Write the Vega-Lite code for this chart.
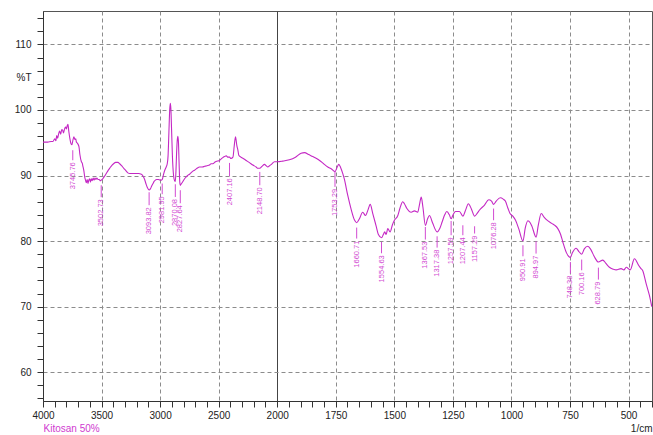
{
  "$schema": "https://vega.github.io/schema/vega-lite/v6.json",
  "width": 609,
  "height": 390,
  "autosize": "none",
  "padding": {"left": 43, "top": 11, "right": 1, "bottom": 34},
  "background": "white",
  "config": {"view": {"stroke": "#555", "strokeWidth": 1}, "font": "Liberation Sans"},
  "datasets": {
    "spectrum": [
      {"wn": 4000, "t": 95.1}, {"wn": 3960, "t": 95.1}, {"wn": 3930, "t": 95.2}, {"wn": 3915, "t": 95.2},
      {"wn": 3900, "t": 95.6}, {"wn": 3890, "t": 95.3}, {"wn": 3883, "t": 96.1}, {"wn": 3875, "t": 95.7},
      {"wn": 3866, "t": 96.4}, {"wn": 3858, "t": 96.8}, {"wn": 3849, "t": 96.3}, {"wn": 3840, "t": 97.0},
      {"wn": 3832, "t": 96.9}, {"wn": 3825, "t": 96.5}, {"wn": 3819, "t": 96.9}, {"wn": 3812, "t": 97.3},
      {"wn": 3806, "t": 97.4}, {"wn": 3800, "t": 97.1}, {"wn": 3793, "t": 97.6}, {"wn": 3787, "t": 97.8},
      {"wn": 3780, "t": 96.8}, {"wn": 3770, "t": 95.6}, {"wn": 3760, "t": 94.8}, {"wn": 3753, "t": 94.7},
      {"wn": 3745.76, "t": 95.3}, {"wn": 3736, "t": 95.9}, {"wn": 3728, "t": 95.5}, {"wn": 3720, "t": 95.6},
      {"wn": 3715, "t": 95.1}, {"wn": 3705, "t": 94.9}, {"wn": 3693, "t": 94.4}, {"wn": 3685, "t": 93.2},
      {"wn": 3672, "t": 92.1}, {"wn": 3665, "t": 91.9}, {"wn": 3659, "t": 91.4}, {"wn": 3650, "t": 90.6},
      {"wn": 3644, "t": 89.8}, {"wn": 3637, "t": 89.3}, {"wn": 3630, "t": 88.9}, {"wn": 3623, "t": 89.4},
      {"wn": 3616, "t": 88.8}, {"wn": 3609, "t": 89.3}, {"wn": 3602, "t": 89.5}, {"wn": 3595, "t": 89.0},
      {"wn": 3588, "t": 89.5}, {"wn": 3580, "t": 89.2}, {"wn": 3572, "t": 89.6}, {"wn": 3564, "t": 89.3},
      {"wn": 3556, "t": 89.6}, {"wn": 3548, "t": 89.4}, {"wn": 3540, "t": 89.6}, {"wn": 3530, "t": 89.4},
      {"wn": 3520, "t": 89.4}, {"wn": 3510, "t": 89.2}, {"wn": 3502.73, "t": 89.3}, {"wn": 3490, "t": 89.5},
      {"wn": 3474, "t": 89.9}, {"wn": 3450, "t": 90.6}, {"wn": 3431, "t": 91.1}, {"wn": 3410, "t": 91.6},
      {"wn": 3397, "t": 91.8}, {"wn": 3380, "t": 92.0}, {"wn": 3360, "t": 92.0}, {"wn": 3345, "t": 91.8},
      {"wn": 3329, "t": 91.5}, {"wn": 3310, "t": 91.1}, {"wn": 3294, "t": 90.8}, {"wn": 3275, "t": 90.4},
      {"wn": 3260, "t": 90.3}, {"wn": 3235, "t": 90.3}, {"wn": 3209, "t": 90.3}, {"wn": 3185, "t": 90.3},
      {"wn": 3160, "t": 90.2}, {"wn": 3145, "t": 89.9}, {"wn": 3132, "t": 89.4}, {"wn": 3120, "t": 88.7},
      {"wn": 3110, "t": 88.2}, {"wn": 3093.82, "t": 87.8}, {"wn": 3082, "t": 88.0}, {"wn": 3072, "t": 88.4},
      {"wn": 3060, "t": 88.8}, {"wn": 3051, "t": 89.1}, {"wn": 3040, "t": 89.3}, {"wn": 3030, "t": 89.4},
      {"wn": 3015, "t": 89.4}, {"wn": 3000, "t": 89.3}, {"wn": 2990, "t": 89.3}, {"wn": 2981.95, "t": 89.4},
      {"wn": 2970, "t": 90.2}, {"wn": 2960, "t": 90.8}, {"wn": 2948, "t": 91.3}, {"wn": 2939, "t": 91.8},
      {"wn": 2932, "t": 93.0}, {"wn": 2925, "t": 96.5}, {"wn": 2918, "t": 100.0}, {"wn": 2913, "t": 101.0},
      {"wn": 2908, "t": 100.2}, {"wn": 2902, "t": 97.0}, {"wn": 2895, "t": 93.0}, {"wn": 2885, "t": 90.0},
      {"wn": 2876, "t": 89.2}, {"wn": 2870.08, "t": 89.1}, {"wn": 2865, "t": 90.5}, {"wn": 2859, "t": 93.5},
      {"wn": 2853, "t": 95.5}, {"wn": 2848, "t": 96.0}, {"wn": 2843, "t": 95.0}, {"wn": 2838, "t": 92.0},
      {"wn": 2832, "t": 89.0}, {"wn": 2827.64, "t": 88.5}, {"wn": 2820, "t": 88.7}, {"wn": 2808, "t": 89.0},
      {"wn": 2795, "t": 89.4}, {"wn": 2782, "t": 89.7}, {"wn": 2765, "t": 90.0}, {"wn": 2748, "t": 90.2},
      {"wn": 2725, "t": 90.6}, {"wn": 2706, "t": 90.8}, {"wn": 2685, "t": 91.1}, {"wn": 2663, "t": 91.3},
      {"wn": 2640, "t": 91.3}, {"wn": 2620, "t": 91.4}, {"wn": 2600, "t": 91.5}, {"wn": 2578, "t": 91.6},
      {"wn": 2565, "t": 91.8}, {"wn": 2550, "t": 91.8}, {"wn": 2527, "t": 92.1}, {"wn": 2510, "t": 92.2},
      {"wn": 2493, "t": 92.3}, {"wn": 2480, "t": 92.5}, {"wn": 2467, "t": 92.7}, {"wn": 2450, "t": 92.9},
      {"wn": 2435, "t": 93.0}, {"wn": 2420, "t": 92.8}, {"wn": 2407.16, "t": 92.8}, {"wn": 2395, "t": 92.6},
      {"wn": 2378, "t": 92.8}, {"wn": 2367, "t": 94.5}, {"wn": 2356, "t": 95.9}, {"wn": 2345, "t": 94.6},
      {"wn": 2335, "t": 93.8}, {"wn": 2328, "t": 93.1}, {"wn": 2310, "t": 92.8}, {"wn": 2290, "t": 92.6},
      {"wn": 2265, "t": 92.3}, {"wn": 2240, "t": 92.0}, {"wn": 2208, "t": 91.6}, {"wn": 2180, "t": 91.3},
      {"wn": 2165, "t": 91.1}, {"wn": 2148.7, "t": 91.1}, {"wn": 2130, "t": 91.4}, {"wn": 2108, "t": 91.7},
      {"wn": 2095, "t": 91.5}, {"wn": 2080, "t": 91.3}, {"wn": 2065, "t": 91.5}, {"wn": 2049, "t": 91.7},
      {"wn": 2023, "t": 92.1}, {"wn": 2000, "t": 92.1}, {"wn": 1976, "t": 92.2}, {"wn": 1948, "t": 92.4},
      {"wn": 1922, "t": 92.8}, {"wn": 1898, "t": 93.4}, {"wn": 1883, "t": 93.5}, {"wn": 1866, "t": 93.2},
      {"wn": 1848, "t": 92.9}, {"wn": 1832, "t": 92.6}, {"wn": 1819, "t": 92.3}, {"wn": 1802, "t": 91.8},
      {"wn": 1784, "t": 91.3}, {"wn": 1768, "t": 91.0}, {"wn": 1753.29, "t": 90.6}, {"wn": 1745, "t": 91.2},
      {"wn": 1737, "t": 91.7}, {"wn": 1729, "t": 91.2}, {"wn": 1720, "t": 90.3}, {"wn": 1713, "t": 89.4},
      {"wn": 1699, "t": 87.0}, {"wn": 1684, "t": 84.8}, {"wn": 1670, "t": 83.2}, {"wn": 1660.71, "t": 82.8},
      {"wn": 1649, "t": 83.4}, {"wn": 1635, "t": 84.4}, {"wn": 1623, "t": 83.9}, {"wn": 1612, "t": 84.8},
      {"wn": 1603, "t": 85.6}, {"wn": 1592, "t": 84.2}, {"wn": 1577, "t": 82.2}, {"wn": 1568, "t": 81.0},
      {"wn": 1554.63, "t": 80.5}, {"wn": 1547, "t": 81.0}, {"wn": 1541, "t": 81.4}, {"wn": 1535, "t": 81.0},
      {"wn": 1528, "t": 81.9}, {"wn": 1518, "t": 81.4}, {"wn": 1508, "t": 82.5}, {"wn": 1499, "t": 83.2},
      {"wn": 1485, "t": 83.9}, {"wn": 1476, "t": 85.0}, {"wn": 1464, "t": 86.0}, {"wn": 1457, "t": 85.7},
      {"wn": 1447, "t": 85.0}, {"wn": 1428, "t": 84.4}, {"wn": 1414, "t": 84.6}, {"wn": 1400, "t": 84.4},
      {"wn": 1393, "t": 85.5}, {"wn": 1385, "t": 86.7}, {"wn": 1378, "t": 85.2}, {"wn": 1367.53, "t": 82.4},
      {"wn": 1358, "t": 83.4}, {"wn": 1350, "t": 83.9}, {"wn": 1337, "t": 82.8}, {"wn": 1317.38, "t": 81.4},
      {"wn": 1305, "t": 82.0}, {"wn": 1296, "t": 82.9}, {"wn": 1285, "t": 84.0}, {"wn": 1276, "t": 84.5},
      {"wn": 1265, "t": 84.0}, {"wn": 1257.59, "t": 83.4}, {"wn": 1248, "t": 84.1}, {"wn": 1239, "t": 84.5},
      {"wn": 1222, "t": 84.5}, {"wn": 1207.44, "t": 83.8}, {"wn": 1195, "t": 84.8}, {"wn": 1184, "t": 85.7},
      {"wn": 1171, "t": 84.9}, {"wn": 1157.29, "t": 83.8}, {"wn": 1145, "t": 84.3}, {"wn": 1137, "t": 84.7},
      {"wn": 1115, "t": 85.5}, {"wn": 1097, "t": 86.3}, {"wn": 1085, "t": 86.1}, {"wn": 1076.28, "t": 85.6},
      {"wn": 1065, "t": 86.1}, {"wn": 1048, "t": 86.6}, {"wn": 1035, "t": 86.4}, {"wn": 1026, "t": 86.1},
      {"wn": 1015, "t": 85.0}, {"wn": 1006, "t": 84.2}, {"wn": 994, "t": 83.8}, {"wn": 983, "t": 83.2},
      {"wn": 969, "t": 81.9}, {"wn": 950.91, "t": 80.0}, {"wn": 941, "t": 82.0}, {"wn": 930, "t": 83.1},
      {"wn": 920, "t": 82.8}, {"wn": 912, "t": 82.2}, {"wn": 894.97, "t": 80.6}, {"wn": 885, "t": 82.5},
      {"wn": 873, "t": 84.2}, {"wn": 860, "t": 83.6}, {"wn": 852, "t": 83.3}, {"wn": 829, "t": 82.7},
      {"wn": 815, "t": 82.4}, {"wn": 802, "t": 81.9}, {"wn": 790, "t": 81.0}, {"wn": 781, "t": 79.9},
      {"wn": 765, "t": 78.2}, {"wn": 748.38, "t": 77.5}, {"wn": 740, "t": 78.2}, {"wn": 724, "t": 78.9},
      {"wn": 712, "t": 78.4}, {"wn": 700.16, "t": 78.0}, {"wn": 689, "t": 78.8}, {"wn": 674, "t": 79.2},
      {"wn": 661, "t": 78.7}, {"wn": 646, "t": 77.6}, {"wn": 628.79, "t": 76.8}, {"wn": 610, "t": 77.1},
      {"wn": 597, "t": 76.6}, {"wn": 582, "t": 76.0}, {"wn": 565, "t": 75.7}, {"wn": 553, "t": 75.6},
      {"wn": 532, "t": 75.8}, {"wn": 520, "t": 75.6}, {"wn": 510, "t": 76.0}, {"wn": 493, "t": 75.6},
      {"wn": 475, "t": 77.3}, {"wn": 457, "t": 76.3}, {"wn": 447, "t": 75.8}, {"wn": 440, "t": 75.5},
      {"wn": 425, "t": 73.5}, {"wn": 411, "t": 71.7}, {"wn": 401, "t": 70.0}
    ],
    "peaks": [
      {"wn": 3745.76, "top": 93.86, "bottom": 92.33},
      {"wn": 3502.73, "top": 88.52, "bottom": 86.69},
      {"wn": 3093.82, "top": 87.45, "bottom": 85.47},
      {"wn": 2981.95, "top": 88.78, "bottom": 87.15},
      {"wn": 2870.08, "top": 88.67, "bottom": 86.73},
      {"wn": 2827.64, "top": 87.76, "bottom": 85.77},
      {"wn": 2407.16, "top": 91.92, "bottom": 89.89},
      {"wn": 2148.70, "top": 90.55, "bottom": 88.52},
      {"wn": 1753.29, "top": 90.66, "bottom": 88.26},
      {"wn": 1660.71, "top": 82.06, "bottom": 80.38},
      {"wn": 1554.63, "top": 79.86, "bottom": 78.14},
      {"wn": 1367.53, "top": 82.15, "bottom": 80.23},
      {"wn": 1317.38, "top": 80.73, "bottom": 79.0},
      {"wn": 1257.59, "top": 83.07, "bottom": 80.89},
      {"wn": 1207.44, "top": 82.41, "bottom": 80.89},
      {"wn": 1157.29, "top": 82.26, "bottom": 81.15},
      {"wn": 1076.28, "top": 84.96, "bottom": 83.18},
      {"wn": 950.91, "top": 79.36, "bottom": 77.68},
      {"wn": 894.97, "top": 79.97, "bottom": 78.09},
      {"wn": 748.38, "top": 76.81, "bottom": 75.04},
      {"wn": 700.16, "top": 77.18, "bottom": 75.54},
      {"wn": 628.79, "top": 75.95, "bottom": 74.12}
    ]
  },
  "layer": [
    {
      "data": {"name": "spectrum"},
      "mark": {"type": "line", "color": "#c428c4", "strokeWidth": 1.1, "interpolate": "monotone"},
      "encoding": {
        "x": {
          "field": "wn", "type": "quantitative",
          "scale": {"domain": [4000, 2000, 400], "range": [0, 234.2, 609], "nice": false, "zero": false},
          "axis": {
            "values": [4000, 3900, 3800, 3700, 3600, 3500, 3400, 3300, 3200, 3100, 3000, 2900, 2800, 2700, 2600, 2500, 2400, 2300, 2200, 2100, 2000, 1950, 1900, 1850, 1800, 1750, 1700, 1650, 1600, 1550, 1500, 1450, 1400, 1350, 1300, 1250, 1200, 1150, 1100, 1050, 1000, 950, 900, 850, 800, 750, 700, 650, 600, 550, 500, 450, 400],
            "tickCount": 200,
            "format": "d",
            "labelExpr": "(datum.value >= 2000 ? datum.value % 500 == 0 : datum.value % 250 == 0) && datum.value > 400 ? datum.label : ''",
            "labelFlush": false,
            "labelOverlap": false,
            "labelFontSize": 10,
            "labelColor": "#222",
            "labelPadding": 3,
            "tickSize": 6,
            "tickColor": "#333",
            "domainColor": "#333",
            "grid": true,
            "gridOpacity": {"condition": {"test": "(datum.value >= 2000 ? datum.value % 500 == 0 : datum.value % 250 == 0) && datum.value < 4000 && datum.value > 400", "value": 1}, "value": 0},
            "gridDash": {"condition": {"test": "datum.value == 2000", "value": []}, "value": [4, 3]},
            "gridColor": {"condition": {"test": "datum.value == 2000", "value": "#444"}, "value": "#8c8c8c"},
            "title": "Kitosan 50%",
            "titleColor": "#d03ad0",
            "titleFontSize": 10,
            "titleFontWeight": "normal",
            "titleAlign": "left",
            "titleBaseline": "middle",
            "titleX": 0,
            "titleY": 27.7
          }
        },
        "y": {
          "field": "t", "type": "quantitative",
          "scale": {"domain": [55.6, 115.1], "nice": false, "zero": false},
          "axis": {
            "values": [56, 58, 60, 62, 64, 66, 68, 70, 72, 74, 76, 78, 80, 82, 84, 86, 88, 90, 92, 94, 96, 98, 100, 102, 104, 105, 106, 108, 110, 112, 114],
            "tickCount": 200,
            "format": "d",
            "labelExpr": "datum.value == 105 ? '%T' : (datum.value % 10 == 0 ? datum.label : '')",
            "labelOverlap": false,
            "labelFontSize": 10,
            "labelColor": "#222",
            "labelPadding": 6,
            "tickSize": 6,
            "tickColor": "#333",
            "tickOpacity": {"condition": {"test": "datum.value == 105", "value": 0}, "value": 1},
            "domainColor": "#333",
            "grid": true,
            "gridOpacity": {"condition": {"test": "datum.value % 10 == 0", "value": 1}, "value": 0},
            "gridDash": [4, 3],
            "gridColor": "#8c8c8c",
            "title": "1/cm",
            "titleAngle": 0,
            "titleAlign": "right",
            "titleBaseline": "middle",
            "titleX": 609,
            "titleY": 417.7,
            "titleFontSize": 10,
            "titleFontWeight": "normal",
            "titleColor": "#222"
          }
        }
      }
    },
    {
      "data": {"name": "peaks"},
      "mark": {"type": "rule", "color": "#d24ad2", "strokeWidth": 1},
      "encoding": {
        "x": {"field": "wn", "type": "quantitative"},
        "y": {"field": "top", "type": "quantitative"},
        "y2": {"field": "bottom"}
      }
    },
    {
      "data": {"name": "peaks"},
      "mark": {"type": "text", "angle": 270, "align": "right", "baseline": "middle", "dx": -2, "fontSize": 7.5, "color": "#d24ad2", "font": "Liberation Sans"},
      "encoding": {
        "x": {"field": "wn", "type": "quantitative"},
        "y": {"field": "bottom", "type": "quantitative"},
        "text": {"field": "wn", "type": "quantitative", "format": ".2f"}
      }
    }
  ]
}
